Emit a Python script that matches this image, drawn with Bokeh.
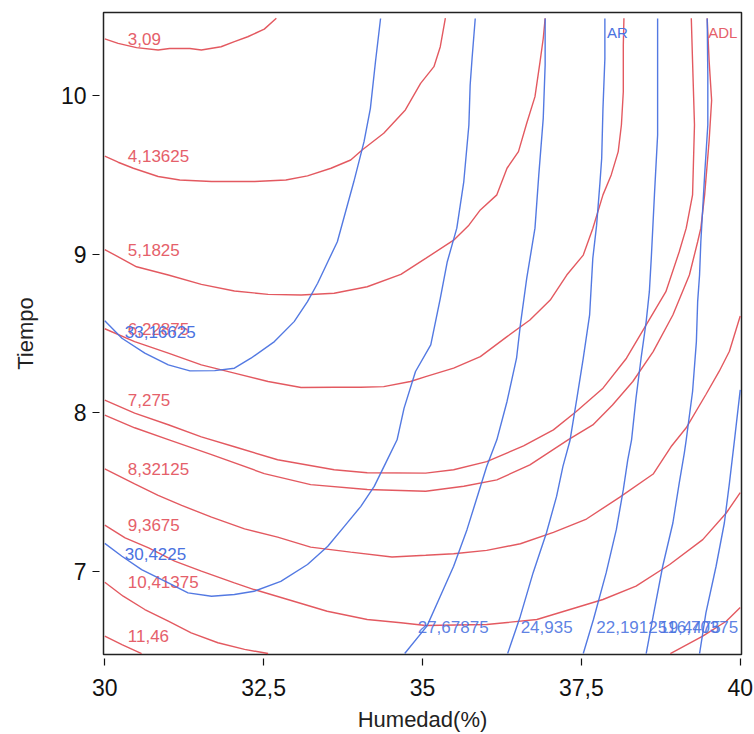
from bokeh.plotting import figure
from bokeh.models import Range1d, FixedTicker, CustomJSTickFormatter
from bokeh.core.properties import value
from bokeh.embed import file_html
from bokeh.resources import INLINE

RED = "#e0474f"
RED_TXT = "#e5606a"
BLUE = "#4a72e0"
FONT = "Liberation Sans"

# ---------------- ADL (red) contour levels and curves ----------------
adl_levels = [3.09, 4.13625, 5.1825, 6.22875, 7.275, 8.32125, 9.3675, 10.41375, 11.46]

adl_309_x = [30.0, 30.21, 30.5, 30.84, 31.02, 31.34, 31.52, 31.83, 32.04, 32.25, 32.51, 32.7]
adl_309_y = [10.36, 10.331, 10.304, 10.289, 10.299, 10.299, 10.289, 10.31, 10.342, 10.373, 10.421, 10.49]

adl_4136_x = [30.0, 30.21, 30.45, 30.84, 31.18, 31.68, 32.36, 32.85, 33.19, 33.56, 33.87, 34.05,
              34.39, 34.73, 34.97, 35.18, 35.28, 35.36]
adl_4136_y = [9.62, 9.581, 9.543, 9.491, 9.469, 9.459, 9.459, 9.469, 9.495, 9.543, 9.595, 9.658,
              9.764, 9.911, 10.079, 10.184, 10.31, 10.49]

adl_5182_x = [30.0, 30.5, 31.0, 31.52, 32.04, 32.57, 33.09, 33.61, 34.13, 34.66, 35.05, 35.49,
              35.73, 35.91, 36.17, 36.33, 36.51, 36.64, 36.77, 36.85, 36.90, 36.93]
adl_5182_y = [9.03, 8.921, 8.869, 8.81, 8.768, 8.747, 8.743, 8.754, 8.795, 8.873, 8.974, 9.089,
              9.184, 9.28, 9.375, 9.543, 9.648, 9.827, 9.995, 10.216, 10.362, 10.49]

adl_6229_x = [30.0, 30.47, 31.0, 31.52, 32.04, 32.57, 33.09, 33.61, 34.03, 34.39, 34.81, 35.05,
              35.49, 35.91, 36.33, 36.69, 37.01, 37.27, 37.53, 37.68, 37.84, 37.97, 38.08, 38.13,
              38.16, 38.16, 38.17]
adl_6229_y = [8.53, 8.449, 8.376, 8.302, 8.25, 8.197, 8.159, 8.161, 8.161, 8.165, 8.197, 8.228,
              8.281, 8.354, 8.48, 8.585, 8.711, 8.869, 8.995, 9.163, 9.375, 9.501, 9.648, 9.816,
              10.026, 10.32, 10.49]

adl_7275_x = [30.0, 30.47, 31.0, 31.52, 32.04, 32.72, 33.61, 34.13, 35.05, 35.49, 36.01, 36.59,
              37.06, 37.42, 37.84, 38.21, 38.52, 38.83, 39.04, 39.15, 39.25, 39.28, 39.25, 39.23]
adl_7275_y = [8.08, 7.997, 7.924, 7.848, 7.785, 7.703, 7.64, 7.621, 7.619, 7.64, 7.691, 7.791,
              7.892, 8.008, 8.155, 8.344, 8.554, 8.764, 9.016, 9.165, 9.375, 9.816, 10.215, 10.49]

adl_extra_x = [30.0, 30.47, 31.0, 31.68, 32.51, 33.24, 34.13, 35.05, 35.65, 36.17, 36.69, 37.29,
               37.68, 37.99, 38.31, 38.63, 38.94, 39.2, 39.33, 39.38, 39.44, 39.51, 39.55, 39.51, 39.48]
adl_extra_y = [7.985, 7.905, 7.83, 7.735, 7.616, 7.546, 7.515, 7.504, 7.536, 7.576, 7.671, 7.829,
               7.923, 8.049, 8.197, 8.386, 8.617, 8.869, 9.079, 9.165, 9.375, 9.713, 9.972, 10.224, 10.49]

adl_8321_x = [30.0, 30.47, 30.84, 31.21, 31.68, 32.2, 32.72, 33.24, 33.87, 34.52, 35.05, 35.49,
              36.01, 36.54, 37.06, 37.58, 38.1, 38.63, 38.91, 39.15, 39.46, 39.67, 39.83, 40.0]
adl_8321_y = [7.645, 7.551, 7.478, 7.415, 7.341, 7.267, 7.215, 7.152, 7.12, 7.089, 7.1, 7.11,
              7.131, 7.173, 7.245, 7.329, 7.466, 7.613, 7.785, 7.905, 8.115, 8.262, 8.388, 8.61]

adl_9368_x = [30.0, 30.32, 30.69, 31.1, 31.52, 32.04, 32.35, 32.88, 33.5, 34.13, 34.66, 35.05,
              36.01, 36.8, 37.32, 37.84, 38.36, 38.89, 39.41, 39.78, 40.0]
adl_9368_y = [7.29, 7.21, 7.147, 7.063, 7.0, 6.926, 6.884, 6.821, 6.747, 6.695, 6.674, 6.657,
              6.663, 6.695, 6.758, 6.821, 6.905, 7.042, 7.199, 7.367, 7.496]

adl_10414_x = [30.0, 30.29, 30.63, 31.0, 31.36, 31.78, 32.2, 32.57]
adl_10414_y = [6.93, 6.842, 6.758, 6.684, 6.611, 6.548, 6.506, 6.48]

adl_11460_x = [30.0, 30.27, 30.58]
adl_11460_y = [6.59, 6.537, 6.48]

adl_corner_x = [38.9, 39.41, 39.78, 40.0]
adl_corner_y = [6.48, 6.59, 6.684, 6.771]

# ---------------- AR (blue) contour levels and curves ----------------
ar_levels = [33.16625, 30.4225, 27.67875, 24.935, 22.19125, 19.4475, 16.70375]

ar_3317_x = [30.0, 30.27, 30.63, 31.0, 31.34, 31.73, 32.04, 32.3, 32.67, 32.98, 33.19, 33.35,
             33.51, 33.66, 33.92, 34.08, 34.18, 34.26, 34.34]
ar_3317_y = [8.58, 8.47, 8.376, 8.302, 8.264, 8.266, 8.281, 8.344, 8.449, 8.575, 8.701, 8.817,
             8.953, 9.079, 9.459, 9.711, 9.921, 10.215, 10.488]

ar_3042_x = [30.0, 30.27, 30.58, 31.0, 31.31, 31.68, 32.04, 32.35, 32.77, 33.19, 33.51, 33.77,
             34.03, 34.24, 34.42, 34.6, 34.71, 34.89, 35.13, 35.28, 35.39, 35.54, 35.65, 35.73,
             35.75, 35.78, 35.83]
ar_3042_y = [7.175, 7.094, 7.01, 6.926, 6.863, 6.842, 6.853, 6.873, 6.936, 7.042, 7.157, 7.283,
             7.409, 7.535, 7.682, 7.829, 8.029, 8.26, 8.428, 8.722, 8.953, 9.165, 9.459, 9.816,
             10.068, 10.236, 10.488]

ar_2768_x = [34.72, 35.07, 35.28, 35.49, 35.7, 35.88, 36.01, 36.17, 36.33, 36.48, 36.54, 36.64,
             36.77, 36.83, 36.9, 36.93, 36.93]
ar_2768_y = [6.48, 6.653, 6.842, 7.031, 7.262, 7.493, 7.661, 7.829, 8.071, 8.344, 8.554, 8.848,
             9.165, 9.501, 9.858, 10.194, 10.488]

ar_2494_x = [36.34, 36.54, 36.74, 36.95, 37.11, 37.21, 37.32, 37.43, 37.53, 37.63, 37.68, 37.74,
             37.79, 37.82, 37.84, 37.87, 37.87]
ar_2494_y = [6.48, 6.716, 6.989, 7.241, 7.472, 7.661, 7.823, 8.092, 8.344, 8.617, 8.974, 9.184,
             9.438, 9.606, 9.921, 10.236, 10.488]

ar_2219_x = [37.53, 37.69, 37.89, 38.05, 38.16, 38.23, 38.29, 38.36, 38.44, 38.52, 38.57, 38.6,
             38.65, 38.7, 38.7, 38.7]
ar_2219_y = [6.48, 6.695, 6.989, 7.262, 7.514, 7.703, 7.829, 8.092, 8.344, 8.575, 8.764, 8.974,
             9.375, 9.753, 10.131, 10.488]

ar_1945_x = [38.52, 38.63, 38.78, 38.94, 39.04, 39.12, 39.15, 39.25, 39.31, 39.33, 39.36, 39.38,
             39.44, 39.49, 39.49, 39.48]
ar_1945_y = [6.48, 6.716, 7.031, 7.304, 7.556, 7.745, 7.829, 8.134, 8.449, 8.701, 8.869, 9.079,
             9.501, 9.816, 10.131, 10.488]

ar_1670_x = [39.36, 39.46, 39.62, 39.75, 39.83, 39.91, 40.0]
ar_1670_y = [6.48, 6.737, 7.031, 7.304, 7.556, 7.829, 8.144]

x_ticks = [30, 32.5, 35, 37.5, 40]
y_ticks = [7, 8, 9, 10]

adl_curves = [
    (adl_309_x, adl_309_y, adl_levels[0]),
    (adl_4136_x, adl_4136_y, adl_levels[1]),
    (adl_5182_x, adl_5182_y, adl_levels[2]),
    (adl_6229_x, adl_6229_y, adl_levels[3]),
    (adl_7275_x, adl_7275_y, adl_levels[4]),
    (adl_extra_x, adl_extra_y, None),
    (adl_8321_x, adl_8321_y, adl_levels[5]),
    (adl_9368_x, adl_9368_y, adl_levels[6]),
    (adl_10414_x, adl_10414_y, adl_levels[7]),
    (adl_11460_x, adl_11460_y, adl_levels[8]),
    (adl_corner_x, adl_corner_y, None),
]
ar_left = [
    (ar_3317_x, ar_3317_y, ar_levels[0]),
    (ar_3042_x, ar_3042_y, ar_levels[1]),
]
ar_bottom = [
    (ar_2768_x, ar_2768_y, ar_levels[2]),
    (ar_2494_x, ar_2494_y, ar_levels[3]),
    (ar_2219_x, ar_2219_y, ar_levels[4]),
    (ar_1945_x, ar_1945_y, ar_levels[5]),
    (ar_1670_x, ar_1670_y, ar_levels[6]),
]


def fmt(v):
    return repr(float(v)).replace(".", ",")


p = figure(width=754, height=734, output_backend="svg", toolbar_location=None,
           x_range=Range1d(29.98, 40.02), y_range=Range1d(6.474, 10.526),
           min_border_left=103, min_border_right=13, min_border_top=12, min_border_bottom=79)
p.grid.visible = False
p.outline_line_color = "#222222"
p.outline_line_width = 1.5
p.background_fill_color = "white"
p.border_fill_color = "white"

for ax in (p.xaxis[0], p.yaxis[0]):
    ax.axis_line_color = None
    ax.major_tick_in = -4
    ax.major_tick_out = 11
    ax.minor_tick_line_color = None
    ax.major_tick_line_color = "#111111"
    ax.major_tick_line_width = 1.2
    ax.major_label_text_font = FONT
    ax.major_label_text_font_size = "23px"
    ax.major_label_text_color = "#111111"
    ax.axis_label_text_font = FONT
    ax.axis_label_text_font_size = "22px"
    ax.axis_label_text_font_style = "normal"
    ax.axis_label_text_color = "#222222"
    ax.formatter = CustomJSTickFormatter(code="return String(tick).replace('.', ',');")

p.xaxis.ticker = FixedTicker(ticks=x_ticks)
p.yaxis.ticker = FixedTicker(ticks=y_ticks)
p.xaxis.axis_label = "Humedad(%)"
p.yaxis.axis_label = "Tiempo"
p.xaxis.major_label_standoff = 13
p.yaxis.major_label_standoff = 6
p.xaxis.axis_label_standoff = 8
p.yaxis.axis_label_standoff = 20

# red contours
lab_x, lab_y, lab_t = [], [], []
for xs, ys, lev in adl_curves:
    p.line(xs, ys, line_color=RED, line_width=1.4, line_alpha=0.9)
    if lev is not None:
        lab_x.append(xs[0]); lab_y.append(ys[0]); lab_t.append(fmt(lev))
p.text(x=lab_x, y=lab_y, text=lab_t, x_offset=23, y_offset=0,
       text_font=value(FONT), text_font_size="17px", text_color=RED_TXT,
       text_baseline="middle", text_align="left")

# blue contours
bl_x, bl_y, bl_t = [], [], []
for xs, ys, lev in ar_left:
    p.line(xs, ys, line_color=BLUE, line_width=1.4, line_alpha=0.95)
    bl_x.append(xs[0]); bl_y.append(ys[0]); bl_t.append(fmt(lev))
p.text(x=bl_x, y=bl_y, text=bl_t, x_offset=20, y_offset=11,
       text_font=value(FONT), text_font_size="17px", text_color=BLUE,
       text_baseline="middle", text_align="left")

bb_x, bb_y, bb_t = [], [], []
for xs, ys, lev in ar_bottom:
    p.line(xs, ys, line_color=BLUE, line_width=1.4, line_alpha=0.95)
    bb_x.append(xs[0]); bb_y.append(ys[0]); bb_t.append(fmt(lev))
p.text(x=bb_x[:-1], y=bb_y[:-1], text=bb_t[:-1], x_offset=13, y_offset=-27,
       text_font=value(FONT), text_font_size="17px", text_color=BLUE,
       text_baseline="middle", text_align="left", text_alpha=0.9)
p.text(x=[40.0], y=[bb_y[-1]], text=[bb_t[-1]], x_offset=-2, y_offset=-27,
       text_font=value(FONT), text_font_size="17px", text_color=BLUE,
       text_baseline="middle", text_align="right", text_alpha=0.9)

# response names at the top
p.text(x=[ar_2494_x[-1]], y=[ar_2494_y[-1]], text=["AR"], x_offset=2, y_offset=14,
       text_font=value(FONT), text_font_size="15px", text_color=BLUE,
       text_baseline="middle", text_align="left")
p.text(x=[ar_1945_x[-1]], y=[ar_1945_y[-1]], text=["ADL"], x_offset=1, y_offset=14,
       text_font=value(FONT), text_font_size="15px", text_color=RED_TXT,
       text_baseline="middle", text_align="left")

open("out.html", "w").write(file_html(p, INLINE))
